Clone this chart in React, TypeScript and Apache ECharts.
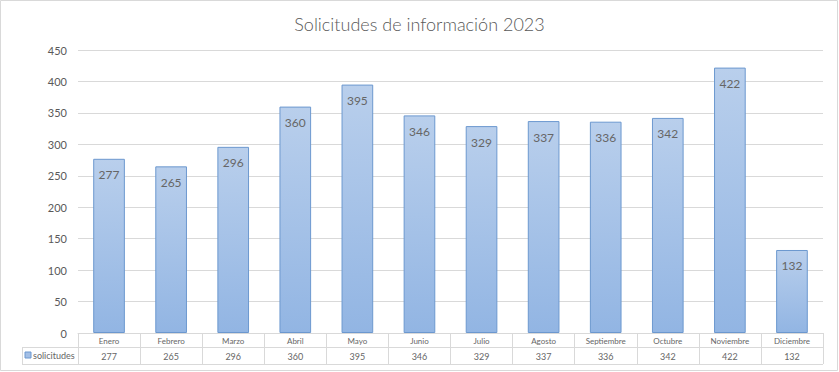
import React, { useEffect, useRef } from "react";
import * as echarts from "echarts";

const months = ["Enero", "Febrero", "Marzo", "Abril", "Mayo", "Junio", "Julio", "Agosto", "Septiembre", "Octubre", "Noviembre", "Diciembre"];
const solicitudes = [277, 265, 296, 360, 395, 346, 329, 337, 336, 342, 422, 132];
const seriesName = "solicitudes";
const titleText = "Solicitudes de información 2023";

const W = 839;
const H = 372;
const G_LEFT = 78;
const G_RIGHT = 16;
const G_TOP = 50;
const G_BOTTOM = 39;

export default function App() {
  const ref = useRef<HTMLDivElement>(null);
  useEffect(() => {
    document.body.style.margin = "0";
    const chart = echarts.init(ref.current!, null, { renderer: "svg" });
    const axisY = H - G_BOTTOM;
    const row1 = axisY + 14;
    const row2 = axisY + 31;
    const xr = W - G_RIGHT;
    const lineStyle = { stroke: "#d9d9d9", lineWidth: 1 };
    chart.setOption({
      animation: false,
      backgroundColor: "#ffffff",
      title: {
        text: titleText,
        left: "center",
        top: 10,
        textStyle: { fontFamily: "Lato", fontWeight: 300, fontSize: 18, color: "#595959" },
      },
      grid: { left: G_LEFT, right: G_RIGHT, top: G_TOP, bottom: G_BOTTOM, containLabel: false },
      xAxis: {
        type: "category",
        data: months,
        boundaryGap: true,
        axisLine: { lineStyle: { color: "#d9d9d9" } },
        axisTick: { show: true, interval: 0, alignWithLabel: false, inside: false, length: 31, lineStyle: { color: "#d9d9d9" } },
        axisLabel: {
          interval: 0,
          margin: 1,
          formatter: (v: string, i: number) => `{a|${v}}\n{b|${solicitudes[i]}}`,
          rich: {
            a: { fontFamily: "Lato", fontSize: 8, color: "#666666", height: 14, lineHeight: 14 },
            b: { fontFamily: "Lato", fontSize: 9, color: "#666666", height: 17, lineHeight: 17 },
          },
        },
      },
      yAxis: {
        type: "value",
        min: 0,
        max: 450,
        interval: 50,
        axisLine: { show: false },
        axisTick: { show: false },
        axisLabel: { fontFamily: "Lato", fontSize: 11, color: "#595959", margin: 11 },
        splitLine: { lineStyle: { color: "#d9d9d9" } },
      },
      series: [
        {
          name: seriesName,
          type: "bar",
          data: solicitudes,
          barWidth: "51%",
          itemStyle: {
            color: new echarts.graphic.LinearGradient(0, 0, 0, 1, [
              { offset: 0, color: "#b9cfec" },
              { offset: 1, color: "#92b5e3" },
            ]),
            borderColor: "#6c98cf",
            borderWidth: 1,
          },
          label: {
            show: true,
            position: "insideTop",
            distance: 10,
            fontFamily: "Lato",
            fontSize: 12,
            color: "#666666",
          },
        },
      ],
      graphic: [
        { type: "rect", shape: { x: 0.5, y: 0.5, width: W - 2, height: H - 2 }, style: { fill: "none", stroke: "#d9d9d9", lineWidth: 1 }, silent: true },
        { type: "line", shape: { x1: 22, y1: row1 + 0.5, x2: xr, y2: row1 + 0.5 }, style: lineStyle, silent: true },
        { type: "line", shape: { x1: 22, y1: row2 + 0.5, x2: xr, y2: row2 + 0.5 }, style: lineStyle, silent: true },
        { type: "line", shape: { x1: 22.5, y1: row1, x2: 22.5, y2: row2 }, style: lineStyle, silent: true },
        { type: "rect", shape: { x: 25, y: row1 + 5, width: 6, height: 6 }, style: { fill: "#a3bfe6", stroke: "#6c98cf", lineWidth: 1 }, silent: true },
        { type: "text", x: 33, y: row1 + 8.5, style: { text: seriesName, fontFamily: "Lato", fontSize: 9, fill: "#666666", verticalAlign: "middle" }, silent: true },
      ],
    });
    return () => chart.dispose();
  }, []);
  return <div ref={ref} style={{ position: "fixed", left: 0, top: 0, width: W, height: H }} />;
}
